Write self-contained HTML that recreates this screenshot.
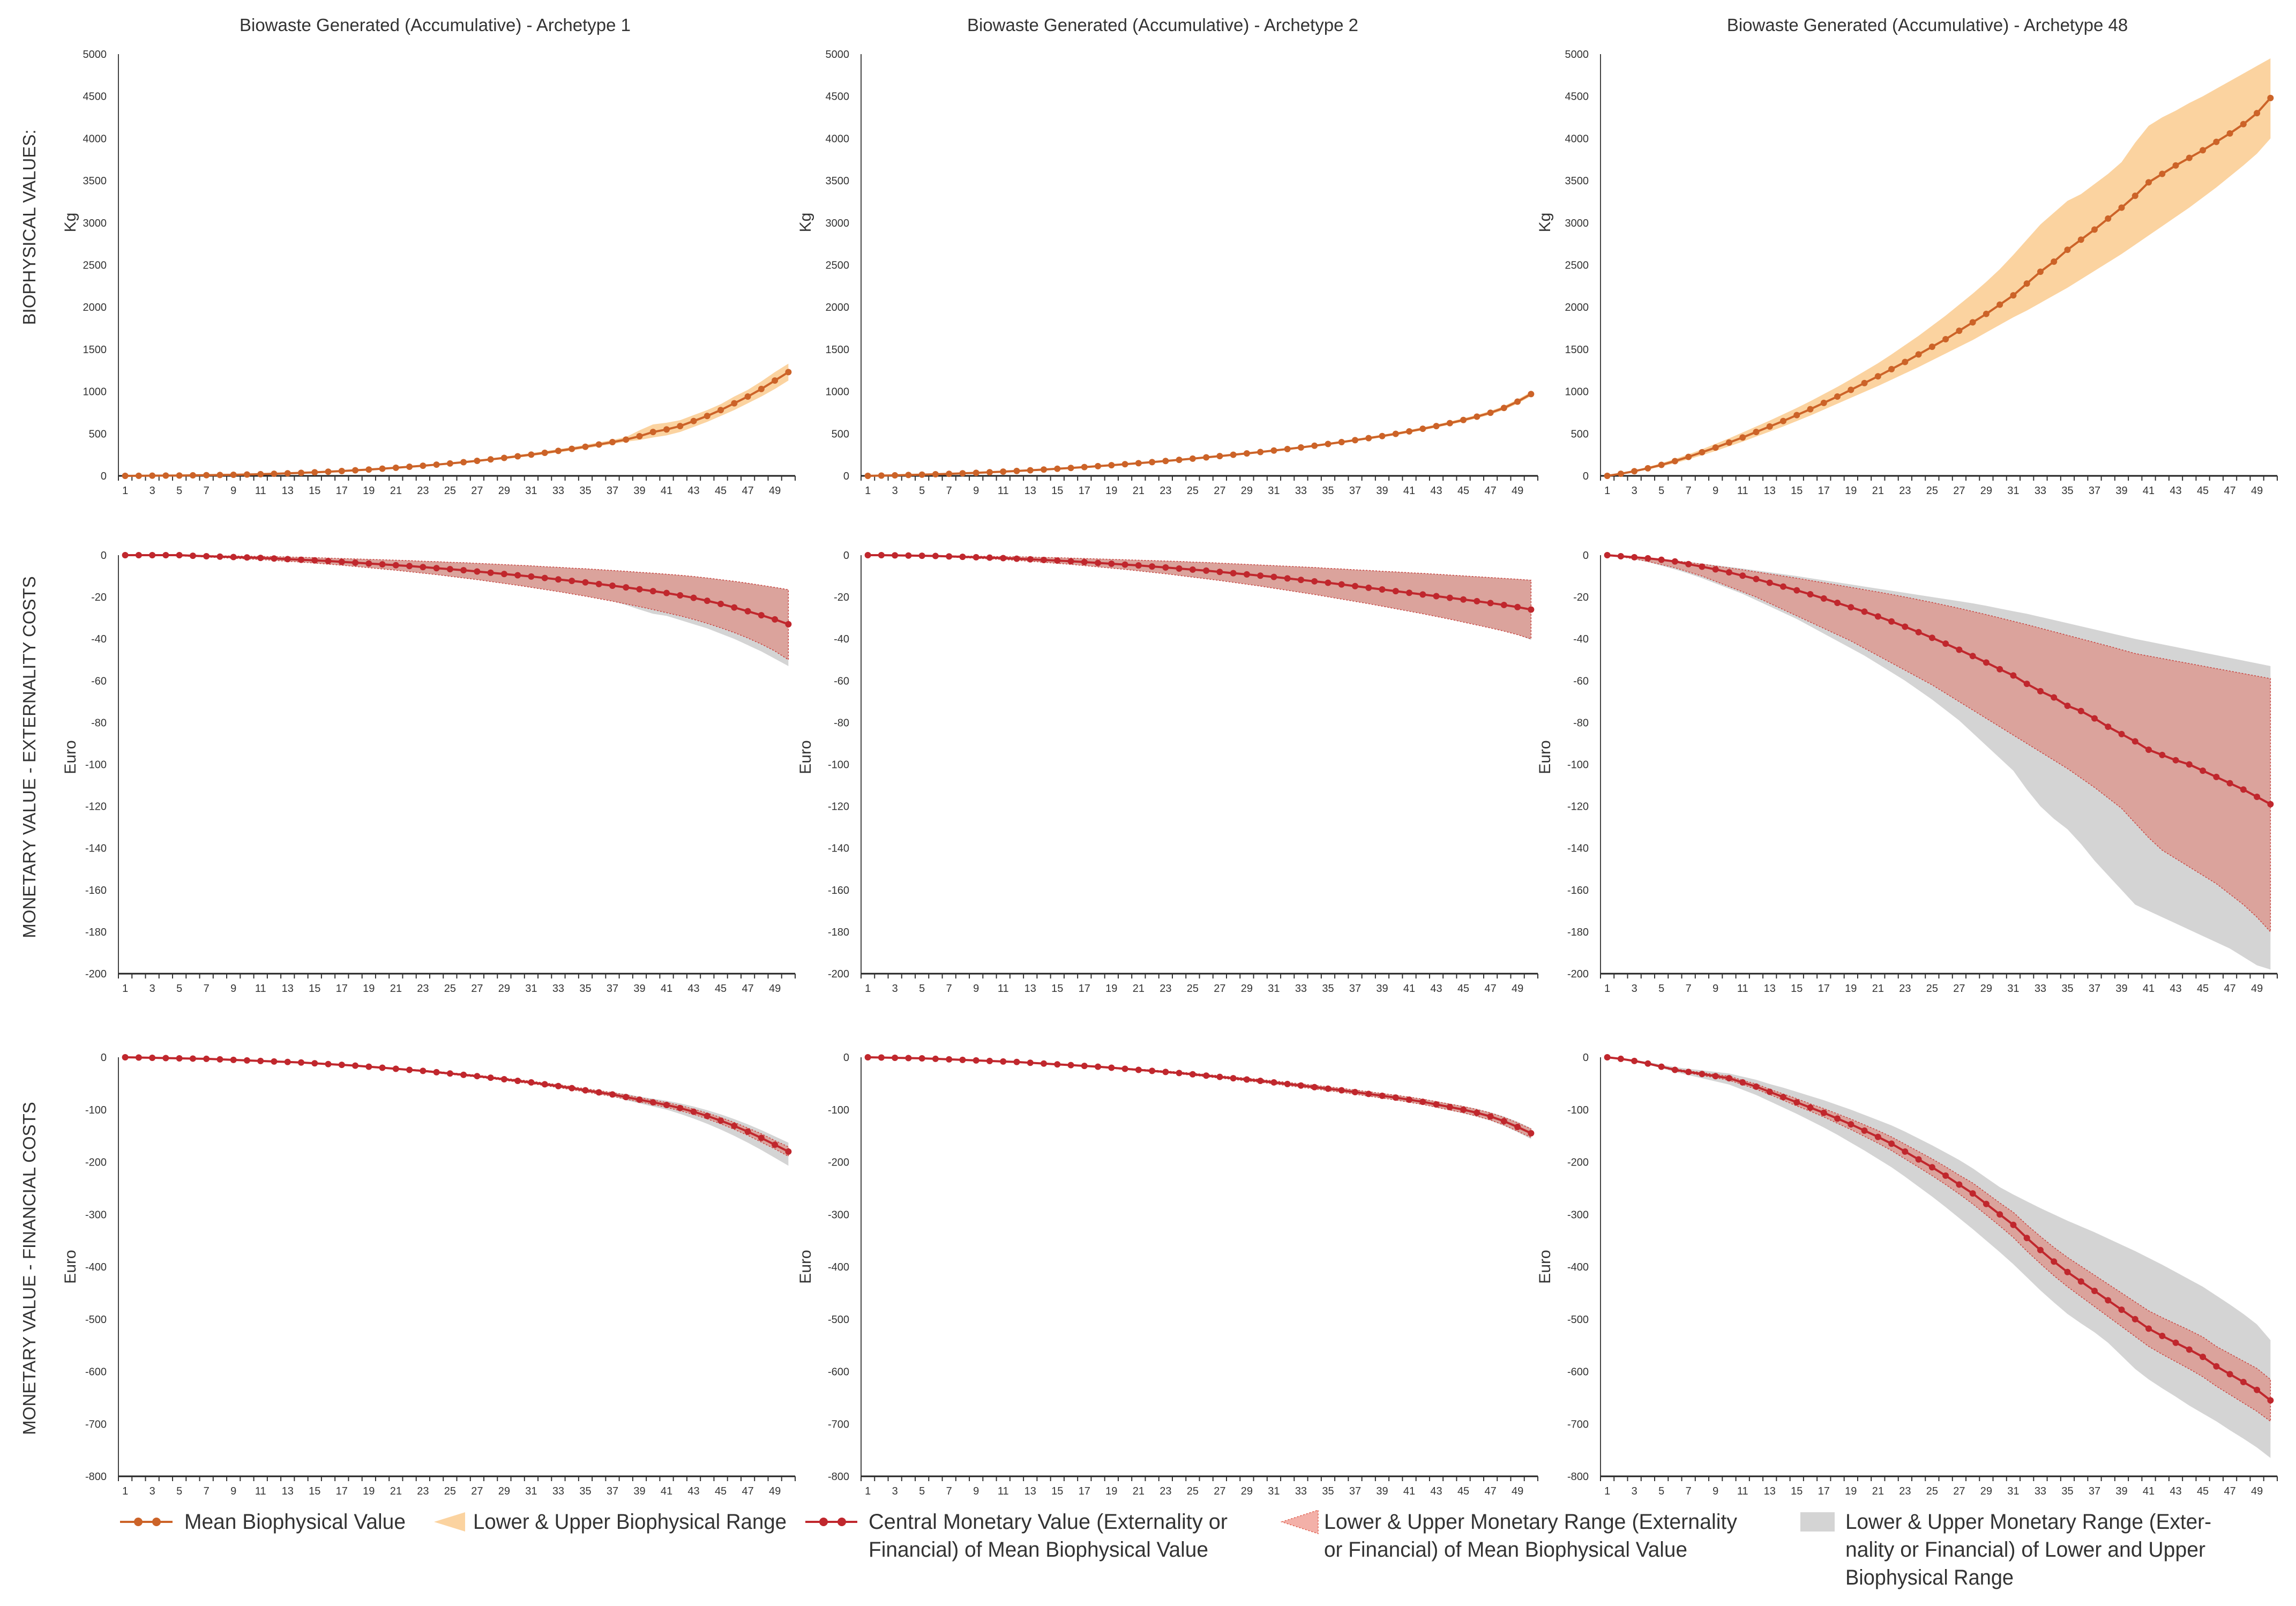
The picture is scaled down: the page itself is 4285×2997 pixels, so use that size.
<!DOCTYPE html>
<html><head><meta charset="utf-8">
<style>
html,body{margin:0;padding:0;background:#fff;}
svg{display:block;}
text{font-family:"Liberation Sans",sans-serif;fill:#333;}
.narrow{font-family:"Liberation Sans Narrow","Liberation Sans",sans-serif;}
</style></head>
<body>
<svg id="chart" width="4285" height="2997" viewBox="0 0 4285 2997" xmlns="http://www.w3.org/2000/svg">
<rect width="4285" height="2997" fill="#fff"/>
<text transform="translate(66,424) rotate(-90)" text-anchor="middle" font-size="33">BIOPHYSICAL VALUES:</text>
<text transform="translate(66,1413) rotate(-90)" text-anchor="middle" font-size="33">MONETARY VALUE - EXTERNALITY COSTS</text>
<text transform="translate(66,2367) rotate(-90)" text-anchor="middle" font-size="33">MONETARY VALUE - FINANCIAL COSTS</text>
<g id="panels"></g>
<g id="legend"></g>
</svg>
<script>
// ---------- DATA ----------
const years = Array.from({length:50},(_,i)=>i+1);
const titles = ["Biowaste Generated  (Accumulative) - Archetype 1","Biowaste Generated  (Accumulative) - Archetype 2","Biowaste Generated  (Accumulative) - Archetype 48"];
const bioTicks = [0,500,1000,1500,2000,2500,3000,3500,4000,4500,5000];
const extTicks = [0,-20,-40,-60,-80,-100,-120,-140,-160,-180,-200];
const finTicks = [0,-100,-200,-300,-400,-500,-600,-700,-800];

const a1BioMean=[0,1,2,3,4,6,8,10,13,16,20,25,30,36,42,49,57,66,75,85,96,108,120,133,147,162,178,195,213,232,252,273,296,320,345,372,400,430,470,520,550,590,650,710,780,860,940,1030,1130,1230];
const a1BioLo=[0,1,2,3,4,5,7,9,12,15,18,23,28,33,39,46,53,61,70,79,89,100,112,124,137,151,166,182,199,217,236,256,278,301,325,351,378,405,425,455,480,520,580,640,710,780,860,940,1030,1130];
const a1BioHi=[0,1,2,4,5,7,9,12,15,18,22,27,33,39,46,53,62,71,81,91,103,116,129,143,158,174,191,209,228,248,269,292,316,341,368,396,425,460,540,610,630,660,720,780,850,940,1020,1120,1230,1330];
const a2BioMean=[0,3,6,10,14,19,24,30,36,43,50,58,66,75,84,94,104,115,126,138,150,163,176,190,204,219,234,250,266,283,300,318,337,357,378,400,423,447,472,498,527,558,590,625,662,702,748,805,880,970];
const a2BioLo=[0,3,6,9,13,18,23,28,34,41,48,55,63,72,81,90,100,110,121,133,145,157,170,183,197,211,226,241,257,274,290,308,326,345,366,387,410,433,457,483,511,541,573,607,643,682,727,782,855,945];
const a2BioHi=[0,3,7,11,15,20,25,32,38,45,52,61,69,78,87,98,108,120,131,143,156,169,183,197,212,227,243,260,276,293,311,329,349,369,391,414,437,462,488,514,544,576,608,644,682,723,770,828,905,995];
const a48BioMean=[0,25,55,90,130,175,225,280,335,395,455,520,585,650,720,790,865,940,1020,1100,1180,1265,1350,1440,1530,1620,1720,1820,1920,2030,2140,2280,2420,2540,2680,2800,2920,3050,3180,3320,3480,3580,3680,3770,3860,3960,4060,4170,4300,4480];
const a48BioLo=[0,20,45,75,110,150,195,245,295,350,405,465,525,585,650,715,785,855,925,995,1065,1140,1215,1290,1370,1450,1530,1610,1700,1790,1880,1960,2050,2140,2230,2330,2430,2530,2630,2740,2850,2960,3070,3180,3300,3420,3550,3680,3820,4000];
const a48BioHi=[0,30,65,105,150,200,255,315,380,445,515,585,655,730,805,885,970,1055,1145,1240,1335,1440,1550,1660,1780,1900,2030,2160,2300,2450,2620,2800,2980,3120,3260,3340,3460,3580,3720,3950,4150,4250,4330,4420,4500,4590,4680,4770,4860,4950];

const a1ExtMid=[0,0,0,0,0,-0.3,-0.5,-0.7,-0.9,-1.1,-1.3,-1.6,-1.9,-2.2,-2.5,-2.8,-3.2,-3.6,-4.0,-4.4,-4.8,-5.2,-5.7,-6.2,-6.7,-7.2,-7.8,-8.4,-9.0,-9.6,-10.2,-10.9,-11.6,-12.3,-13.0,-13.8,-14.6,-15.4,-16.3,-17.2,-18.1,-19.2,-20.4,-21.8,-23.3,-25,-26.8,-28.7,-30.7,-33];
const a1ExtRedLo=[0,0,0,-0.2,-0.4,-0.6,-0.9,-1.2,-1.5,-1.8,-2.1,-2.5,-2.9,-3.3,-3.8,-4.3,-4.8,-5.4,-6.0,-6.6,-7.2,-7.9,-8.6,-9.3,-10.1,-10.9,-11.7,-12.6,-13.5,-14.4,-15.4,-16.4,-17.4,-18.5,-19.6,-20.8,-22.0,-23.3,-24.6,-26.0,-27.5,-29.0,-30.7,-32.6,-34.7,-37,-39.6,-42.5,-45.8,-50];
const a1ExtRedHi=[0,0,0,0,0,-0.1,-0.2,-0.3,-0.4,-0.5,-0.6,-0.7,-0.9,-1.0,-1.2,-1.4,-1.6,-1.8,-2.0,-2.2,-2.4,-2.6,-2.9,-3.1,-3.4,-3.6,-3.9,-4.2,-4.5,-4.8,-5.1,-5.5,-5.8,-6.2,-6.5,-6.9,-7.3,-7.7,-8.2,-8.6,-9.1,-9.6,-10.2,-10.9,-11.7,-12.5,-13.4,-14.4,-15.4,-16.5];
const a1ExtGrayLo=[0,0,0,-0.2,-0.4,-0.6,-0.9,-1.2,-1.5,-1.8,-2.1,-2.5,-2.9,-3.3,-3.8,-4.3,-4.8,-5.4,-6.0,-6.6,-7.2,-7.9,-8.6,-9.3,-10.1,-10.9,-11.7,-12.6,-13.5,-14.4,-15.4,-16.4,-17.4,-18.5,-19.6,-20.8,-22.0,-23.8,-26,-28,-29,-31,-33,-35,-37.5,-40,-43,-46,-49.5,-53];
const a1ExtGrayHi=[0,0,0,0,0,-0.1,-0.2,-0.3,-0.4,-0.5,-0.6,-0.7,-0.9,-1.0,-1.2,-1.4,-1.6,-1.8,-2.0,-2.2,-2.4,-2.6,-2.9,-3.1,-3.4,-3.6,-3.9,-4.2,-4.5,-4.8,-5.1,-5.5,-5.8,-6.2,-6.5,-6.9,-7.3,-7.7,-8.2,-8.6,-9.1,-9.6,-10.2,-10.9,-11.7,-12.5,-13.4,-14.4,-15.4,-16.5];
const a2ExtMid=[0,0,-0.1,-0.2,-0.3,-0.4,-0.6,-0.8,-1.0,-1.2,-1.4,-1.7,-2.0,-2.3,-2.6,-2.9,-3.3,-3.7,-4.1,-4.5,-4.9,-5.4,-5.9,-6.4,-6.9,-7.4,-8.0,-8.6,-9.2,-9.8,-10.4,-11.1,-11.8,-12.5,-13.2,-14.0,-14.8,-15.6,-16.4,-17.2,-18.0,-18.8,-19.6,-20.4,-21.2,-22.0,-22.9,-23.8,-24.8,-26];
const a2ExtRedLo=[0,0,-0.2,-0.3,-0.5,-0.7,-0.9,-1.2,-1.5,-1.8,-2.1,-2.5,-2.9,-3.4,-3.9,-4.4,-5.0,-5.6,-6.2,-6.8,-7.5,-8.2,-8.9,-9.7,-10.5,-11.3,-12.1,-13.0,-13.9,-14.8,-15.8,-16.8,-17.8,-18.8,-19.9,-21.0,-22.1,-23.2,-24.4,-25.6,-26.8,-28.0,-29.3,-30.6,-32.0,-33.4,-34.8,-36.3,-38,-40];
const a2ExtRedHi=[0,0,0,-0.1,-0.1,-0.2,-0.3,-0.4,-0.5,-0.6,-0.7,-0.8,-0.9,-1.1,-1.2,-1.4,-1.6,-1.8,-2.0,-2.2,-2.4,-2.6,-2.8,-3.0,-3.3,-3.5,-3.8,-4.1,-4.4,-4.7,-5.0,-5.3,-5.6,-5.9,-6.3,-6.6,-7.0,-7.3,-7.7,-8.0,-8.4,-8.7,-9.1,-9.5,-9.9,-10.3,-10.7,-11.1,-11.5,-12];
const a2ExtGrayLo=[0,0,-0.2,-0.3,-0.5,-0.7,-0.9,-1.2,-1.5,-1.8,-2.1,-2.5,-2.9,-3.4,-3.9,-4.4,-5.0,-5.6,-6.2,-6.8,-7.5,-8.2,-8.9,-9.7,-10.5,-11.3,-12.1,-13.0,-13.9,-14.8,-15.8,-16.8,-17.8,-18.8,-19.9,-21.0,-22.1,-23.2,-24.4,-25.6,-26.8,-28.0,-29.3,-30.6,-32.0,-33.4,-34.8,-36.3,-38,-40.5];
const a2ExtGrayHi=[0,0,0,-0.1,-0.1,-0.2,-0.3,-0.4,-0.5,-0.6,-0.7,-0.8,-0.9,-1.1,-1.2,-1.4,-1.6,-1.8,-2.0,-2.2,-2.4,-2.6,-2.8,-3.0,-3.3,-3.5,-3.8,-4.1,-4.4,-4.7,-5.0,-5.3,-5.6,-5.9,-6.3,-6.6,-7.0,-7.3,-7.7,-8.0,-8.4,-8.7,-9.1,-9.5,-9.9,-10.3,-10.7,-11.1,-11.5,-11.8];
const a48ExtMid=[0,-0.5,-1,-1.5,-2.2,-3,-4.3,-5.5,-6.8,-8.2,-9.8,-11.4,-13.2,-15,-16.8,-18.7,-20.7,-22.8,-24.9,-27,-29.3,-31.7,-34.2,-36.8,-39.5,-42.3,-45.2,-48.2,-51.3,-54.5,-57.5,-61.5,-65,-68,-72,-74.5,-78,-82,-85.5,-89,-93,-95.5,-98,-100,-103,-106,-109,-112,-115.5,-119];
const a48ExtRedLo=[0,-0.8,-1.8,-3,-4.5,-6,-8,-10,-12.5,-15,-17.5,-20,-23,-26,-29,-32,-35,-38,-41,-44.5,-48,-51.5,-55,-58.5,-62,-66,-70,-74,-78,-82,-86,-90,-94,-98,-102,-106.5,-111,-116,-121,-128,-135,-141,-145,-149,-153,-157,-162,-167,-173,-180];
const a48ExtRedHi=[0,-0.3,-0.8,-1.3,-2,-2.7,-3.5,-4.3,-5.2,-6.1,-7,-8,-9,-10,-11,-12.1,-13.2,-14.3,-15.4,-16.5,-17.6,-18.8,-20,-21.3,-22.6,-24,-25.4,-26.9,-28.4,-30,-31.6,-33.2,-34.9,-36.6,-38.3,-40,-41.7,-43.4,-45.2,-47,-48.2,-49.4,-50.6,-51.8,-53,-54.2,-55.4,-56.6,-57.8,-59];
const a48ExtGrayLo=[0,-0.9,-2,-3.3,-5,-6.8,-8.8,-11,-13.5,-16,-18.5,-21.5,-24.5,-27.5,-30.5,-34,-37.5,-41,-44.5,-48,-52,-56,-60,-64.5,-69,-74,-79,-85,-91,-97,-103,-112,-120,-126,-131,-138,-146,-153,-160,-167,-170,-173,-176,-179,-182,-185,-188,-192,-196,-198];
const a48ExtGrayHi=[0,-0.3,-0.7,-1.2,-1.8,-2.5,-3.2,-4,-4.8,-5.6,-6.4,-7.3,-8.2,-9.1,-10,-11,-12,-13,-14,-15,-16,-17,-18,-19,-20,-21,-22,-23,-24.2,-25.5,-26.8,-28,-29.5,-31,-32.5,-34,-35.5,-37,-38.5,-40,-41.3,-42.6,-43.9,-45.2,-46.5,-47.8,-49.1,-50.4,-51.7,-53];

const a1FinMid=[0,-0.5,-1,-1.5,-2,-2.5,-3,-4,-5,-6,-7,-8,-9,-10,-11.5,-13,-14.5,-16,-18,-20,-22,-24,-26,-28.5,-31,-33.5,-36,-39,-42,-45,-48,-51.5,-55,-59,-63,-67,-71,-76,-81,-86,-91,-97,-104,-112,-121,-131,-142,-154,-167,-180];
const a1FinRedLo=[0,-0.5,-1,-1.5,-2,-2.5,-3.2,-4.2,-5.2,-6.3,-7.3,-8.4,-9.5,-10.5,-12,-13.6,-15.2,-16.8,-18.9,-21,-23,-25.2,-27.3,-30,-32.6,-35.2,-37.8,-41,-44,-47.3,-50.4,-54,-57.8,-62,-66,-70.4,-74.6,-80,-85,-90.3,-95.6,-102,-109,-117.6,-127,-137.6,-149,-162,-175,-189];
const a1FinRedHi=[0,-0.5,-1,-1.5,-2,-2.5,-2.8,-3.8,-4.8,-5.7,-6.7,-7.6,-8.5,-9.5,-11,-12.4,-13.8,-15.2,-17.1,-19,-21,-22.8,-24.7,-27,-29.4,-31.8,-34.2,-37,-40,-42.7,-45.6,-49,-52.2,-56,-60,-63.6,-67.4,-72,-77,-81.7,-86.4,-92,-99,-106.4,-115,-124.4,-135,-146,-159,-171];
const a1FinGrayLo=[0,-0.5,-1,-1.5,-2,-2.5,-3.2,-4.2,-5.2,-6.3,-7.3,-8.4,-9.5,-10.5,-12,-13.6,-15.2,-16.8,-18.9,-21,-23,-25.2,-27.3,-30,-32.6,-35.2,-37.8,-41,-44,-47.3,-50.4,-54,-57.8,-62,-66,-70.4,-74.6,-82,-88,-94,-100,-108,-117,-127,-138,-150,-163,-177,-192,-207];
const a1FinGrayHi=[0,-0.5,-1,-1.5,-2,-2.5,-2.8,-3.8,-4.8,-5.7,-6.7,-7.6,-8.5,-9.5,-11,-12.4,-13.8,-15.2,-17.1,-19,-21,-22.8,-24.7,-27,-29.4,-31.8,-34.2,-37,-40,-42.7,-45.6,-49,-52.2,-56,-60,-63.6,-67.4,-70,-75,-79,-83,-88,-94,-101,-109,-118,-128,-139,-151,-163];
const a2FinMid=[0,-0.5,-1,-1.5,-2,-3,-4,-5,-6,-7,-8,-9,-10.5,-12,-13.5,-15,-16.5,-18,-20,-22,-24,-26,-28,-30,-32.5,-35,-37.5,-40,-42.5,-45,-48,-51,-54,-57,-60,-63,-66.5,-70,-73.5,-77,-81,-85,-90,-95,-100,-106,-113,-122,-133,-145];
const a2FinRedLo=[0,-0.5,-1,-1.6,-2.2,-3.2,-4.2,-5.3,-6.3,-7.4,-8.5,-9.6,-11.1,-12.7,-14.3,-15.9,-17.5,-19.1,-21.2,-23.3,-25.4,-27.6,-29.7,-31.8,-34.5,-37.1,-39.8,-42.4,-45.1,-47.7,-50.9,-54.1,-57.2,-60.4,-63.6,-66.8,-70.5,-74.2,-77.9,-81.6,-85.9,-90.1,-95.4,-100.7,-106,-112.4,-119.8,-129.3,-141,-153];
const a2FinRedHi=[0,-0.5,-1,-1.4,-1.8,-2.8,-3.8,-4.7,-5.7,-6.6,-7.5,-8.4,-9.9,-11.3,-12.7,-14.1,-15.5,-16.9,-18.8,-20.7,-22.6,-24.4,-26.3,-28.2,-30.5,-32.9,-35.2,-37.6,-39.9,-42.3,-45.1,-47.9,-50.8,-53.6,-56.4,-59.2,-62.5,-65.8,-69.1,-72.4,-76.1,-79.9,-84.6,-89.3,-94,-99.6,-106.2,-114.7,-125,-137];
const a2FinGrayLo=[0,-0.5,-1,-1.6,-2.2,-3.2,-4.2,-5.3,-6.3,-7.4,-8.5,-9.6,-11.1,-12.7,-14.3,-15.9,-17.5,-19.1,-21.2,-23.3,-25.4,-27.6,-29.7,-31.8,-34.5,-37.1,-39.8,-42.4,-45.1,-47.7,-50.9,-54.1,-57.2,-60.4,-63.6,-66.8,-70.5,-74.2,-77.9,-81.6,-86,-90.5,-96,-101.5,-107,-113.5,-121,-131,-143,-156];
const a2FinGrayHi=[0,-0.5,-1,-1.4,-1.8,-2.8,-3.8,-4.7,-5.7,-6.6,-7.5,-8.4,-9.9,-11.3,-12.7,-14.1,-15.5,-16.9,-18.8,-20.7,-22.6,-24.4,-26.3,-28.2,-30.5,-32.9,-35.2,-37.6,-39.9,-42.3,-45.1,-47.9,-50.8,-53.6,-56.4,-59.2,-62.5,-65.8,-69.1,-72.4,-76,-79.5,-84,-88.5,-93,-98.5,-105,-113,-123,-135];
const a48FinMid=[0,-3,-7,-12,-18,-24,-28,-32,-36,-40,-48,-56,-66,-76,-86,-96,-106,-117,-128,-140,-152,-165,-180,-195,-210,-226,-243,-260,-280,-300,-320,-345,-368,-390,-410,-428,-446,-464,-482,-500,-518,-532,-545,-558,-572,-590,-605,-620,-635,-655];
const a48FinRedLo=[0,-3,-8,-13,-19,-26,-30,-35,-39,-44,-52,-61,-71,-82,-93,-103,-114,-126,-138,-151,-164,-178,-194,-210,-226,-243,-261,-280,-301,-322,-344,-370,-394,-417,-438,-457,-476,-495,-514,-533,-552,-567,-581,-595,-610,-628,-644,-660,-676,-695];
const a48FinRedHi=[0,-3,-6,-11,-17,-22,-26,-29,-33,-36,-44,-51,-61,-70,-79,-89,-98,-108,-118,-129,-140,-152,-166,-180,-194,-209,-225,-240,-259,-278,-296,-320,-342,-363,-382,-399,-416,-433,-450,-467,-484,-497,-509,-521,-534,-552,-566,-580,-594,-615];
const a48FinGrayLo=[0,-3,-8,-14,-21,-28,-34,-40,-46,-52,-62,-72,-84,-96,-108,-121,-134,-148,-163,-178,-194,-210,-228,-247,-266,-286,-307,-328,-350,-372,-395,-420,-445,-468,-490,-508,-525,-545,-570,-595,-615,-632,-648,-665,-680,-695,-712,-728,-745,-765];
const a48FinGrayHi=[0,-2,-5,-9,-14,-19,-22,-25,-28,-31,-37,-43,-51,-58,-66,-74,-82,-91,-100,-110,-120,-130,-142,-155,-168,-182,-196,-212,-230,-248,-262,-275,-288,-300,-312,-323,-334,-346,-358,-370,-383,-396,-410,-424,-438,-455,-472,-490,-510,-540];

// ---------- RENDER ----------
const NS="http://www.w3.org/2000/svg";
const root=document.getElementById('panels');
function mk(tag,attrs,parent){const e=document.createElementNS(NS,tag);for(const k in attrs)e.setAttribute(k,attrs[k]);(parent||root).appendChild(e);return e;}

const colX=[[221,1484],[1607,2870],[2987,4250]];
const titleX=[812,2170,3597];
const unitX=[131,1503,2883];
const rows=[
 {top:101,bot:888,min:0,max:5000,ticks:bioTicks,unit:"Kg",kind:"bio",uy:415},
 {top:1036,bot:1817,min:-200,max:0,ticks:extTicks,unit:"Euro",kind:"mon",uy:1413},
 {top:1973,bot:2755,min:-800,max:0,ticks:finTicks,unit:"Euro",kind:"mon",uy:2364}
];
const panelData=[
 [{mean:a1BioMean,lo:a1BioLo,hi:a1BioHi},{mean:a2BioMean,lo:a2BioLo,hi:a2BioHi},{mean:a48BioMean,lo:a48BioLo,hi:a48BioHi}],
 [{mean:a1ExtMid,rlo:a1ExtRedLo,rhi:a1ExtRedHi,glo:a1ExtGrayLo,ghi:a1ExtGrayHi},{mean:a2ExtMid,rlo:a2ExtRedLo,rhi:a2ExtRedHi,glo:a2ExtGrayLo,ghi:a2ExtGrayHi},{mean:a48ExtMid,rlo:a48ExtRedLo,rhi:a48ExtRedHi,glo:a48ExtGrayLo,ghi:a48ExtGrayHi}],
 [{mean:a1FinMid,rlo:a1FinRedLo,rhi:a1FinRedHi,glo:a1FinGrayLo,ghi:a1FinGrayHi},{mean:a2FinMid,rlo:a2FinRedLo,rhi:a2FinRedHi,glo:a2FinGrayLo,ghi:a2FinGrayHi},{mean:a48FinMid,rlo:a48FinRedLo,rhi:a48FinRedHi,glo:a48FinGrayLo,ghi:a48FinGrayHi}]
];
const archNames=["archetype-1","archetype-2","archetype-48"];
const rowNames=["biophysical","externality","financial"];

titles.forEach((t,c)=>{
  const e=mk('text',{x:titleX[c],y:58,'text-anchor':'middle','font-size':33});
  
  
  e.textContent=t;
});

rows.forEach((r,ri)=>{
  colX.forEach((cx,ci)=>{
    const g=mk('g',{});
    
    
    const [x0,x1]=cx;
    const xs=i=>x0+(i-0.5)*(x1-x0)/50;
    const ys=v=>r.bot-(v-r.min)/(r.max-r.min)*(r.bot-r.top);
    const ya=mk('line',{x1:x0,y1:r.top,x2:x0,y2:r.bot,stroke:'#444','stroke-width':2},g);
    
    
    const xa=mk('line',{x1:x0,y1:r.bot,x2:x1,y2:r.bot,stroke:'#222','stroke-width':3},g);
    
    
    for(let k=0;k<=50;k++){const xx=x0+k*(x1-x0)/50;mk('line',{x1:xx,y1:r.bot,x2:xx,y2:r.bot+9,stroke:'#333','stroke-width':2},g);}
    years.forEach(y=>{ if(y%2===1){
      const t=mk('text',{x:xs(y),y:r.bot+34,'text-anchor':'middle','font-size':20,'class':'narrow'},g);
      
      
      t.textContent=y;}});
    r.ticks.forEach(v=>{
      const t=mk('text',{x:x0-22,y:ys(v)+7,'text-anchor':'end','font-size':20,'class':'narrow'},g);
      
      
      t.textContent=v;});
    const u=mk('text',{transform:`translate(${unitX[ci]+10},${r.uy}) rotate(-90)`,'text-anchor':'middle','font-size':30},g);
    
    
    u.textContent=r.unit;
    const d=panelData[ri][ci];
    const band=(lo,hi)=>{let p='M'+years.map((y,i)=>xs(y)+','+ys(hi[i])).join('L');
      p+='L'+years.slice().reverse().map(y=>xs(y)+','+ys(lo[y-1])).join('L')+'Z';return p;};
    const line=arr=>'M'+years.map((y,i)=>xs(y)+','+ys(arr[i])).join('L');
    let col;
    if(r.kind==='bio'){
      col='#cc6328';
      const b=mk('path',{d:band(d.lo,d.hi),fill:'#fbd3a0',stroke:'none'},g);
      
      
    } else {
      col='#c0272d';
      const gb=mk('path',{d:band(d.glo,d.ghi),fill:'#d4d4d4'},g);
      
      
      const rb=mk('path',{d:band(d.rlo,d.rhi),fill:'#dba39c',stroke:'#c8433f','stroke-width':1.5,'stroke-dasharray':'3 3'},g);
      
      
    }
    const ml=mk('path',{d:line(d.mean),fill:'none',stroke:col,'stroke-width':4},g);
    
    
    years.forEach((y,i)=>{
      const c=mk('circle',{cx:xs(y),cy:ys(d.mean[i]),r:6,fill:col},g);
      
      
    });
  });
});

// ---------- LEGEND ----------
const lg=document.getElementById('legend');
function ltext(x,y,lines,widths){lines.forEach((s,i)=>{const t=mk('text',{x:x,y:y+i*52,'font-size':40,'class':'narrow',fill:'#333',textLength:widths[i],lengthAdjust:'spacingAndGlyphs'},lg);
  
  
  t.textContent=s;});}
let li=mk('g',{},lg);
mk('line',{x1:224,y1:2840,x2:322,y2:2840,stroke:'#cc6328','stroke-width':4},li);
mk('circle',{cx:258,cy:2840,r:8,fill:'#cc6328'},li);mk('circle',{cx:292,cy:2840,r:8,fill:'#cc6328'},li);
ltext(344,2853,["Mean Biophysical Value"],[413]);
li=mk('g',{},lg);
mk('path',{d:'M810,2840 L868,2822 L868,2858 Z',fill:'#fbd3a0'},li);
ltext(883,2853,["Lower & Upper Biophysical Range"],[585]);
li=mk('g',{},lg);
mk('line',{x1:1503,y1:2840,x2:1600,y2:2840,stroke:'#c0272d','stroke-width':4},li);
mk('circle',{cx:1537,cy:2840,r:8,fill:'#c0272d'},li);mk('circle',{cx:1571,cy:2840,r:8,fill:'#c0272d'},li);
ltext(1621,2853,["Central Monetary Value (Externality or","Financial) of Mean Biophysical Value"],[670,634]);
li=mk('g',{},lg);
mk('path',{d:'M2392,2840 L2460,2818 L2460,2862 Z',fill:'#f3b0a8',stroke:'#e06050','stroke-dasharray':'3 3','stroke-width':1.5},li);
ltext(2471,2853,["Lower & Upper Monetary Range (Externality","or Financial) of Mean Biophysical Value"],[771,678]);
li=mk('g',{},lg);
mk('rect',{x:3360,y:2822,width:64,height:36,fill:'#d4d4d4'},li);
ltext(3444,2853,["Lower & Upper Monetary Range (Exter-","nality or Financial) of Lower and Upper","Biophysical Range"],[683,672,314]);
</script>
</body></html>
